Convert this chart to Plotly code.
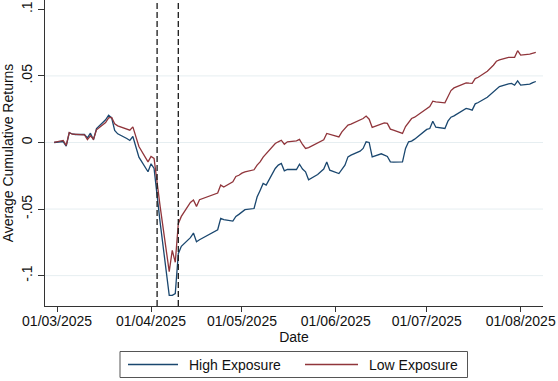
import pandas as pd
import plotly.graph_objects as go

# ---------------- data ----------------
HOLIDAYS = ["2025-04-18"]
dates = [d for d in pd.bdate_range("2025-02-28", "2025-08-06") if d.strftime("%Y-%m-%d") not in HOLIDAYS]

high_exposure = [
    0.0,                                                   # Feb 28
    0.0007, -0.0028, 0.0072, 0.0065, 0.0060,               # Mar 3-7
    0.0060, 0.0035, 0.0070, 0.0020, 0.0105,                # Mar 10-14
    0.0170, 0.0205, 0.0185, 0.0090, 0.0065,                # Mar 17-21
    0.0030, 0.0015, 0.0045, -0.0040, -0.0110,              # Mar 24-28
    -0.0220, -0.0160, -0.0195, -0.0400, -0.0600,           # Mar 31 - Apr 4
    -0.1148, -0.1148, -0.1135, -0.0835, -0.0780,           # Apr 7-11
    -0.0715, -0.0680, -0.0745, -0.0730,                    # Apr 14-17
    -0.0684, -0.0670, -0.0655, -0.0570, -0.0580,           # Apr 21-25
    -0.0590, -0.0555, -0.0540, -0.0520, -0.0505,           # Apr 28 - May 2
    -0.0496, -0.0410, -0.0360, -0.0308, -0.0320,           # May 5-9
    -0.0195, -0.0170, -0.0158, -0.0213, -0.0203,           # May 12-16
    -0.0203, -0.0163, -0.0200, -0.0220, -0.0280,           # May 19-23
    -0.0240, -0.0220, -0.0200, -0.0146, -0.0208,           # May 26-30
    -0.0233, -0.0200, -0.0171, -0.0108, -0.0095,           # Jun 2-6
    -0.0065, -0.0045, 0.0005, 0.0000, -0.0108,             # Jun 9-13
    -0.0085, -0.0095, -0.0105, -0.0146, -0.0148,           # Jun 16-20
    -0.0146, -0.0045, 0.0005, 0.0010, 0.0025,              # Jun 23-27
    0.0075, 0.0098, 0.0105, 0.0160, 0.0115,                # Jun 30 - Jul 4
    0.0105, 0.0160, 0.0190, 0.0200, 0.0215,                # Jul 7-11
    0.0256, 0.0250, 0.0243, 0.0290, 0.0300,                # Jul 14-18
    0.0340, 0.0360, 0.0380, 0.0406, 0.0420,                # Jul 21-25
    0.0440, 0.0444, 0.0430, 0.0463, 0.0431,                # Jul 28 - Aug 1
    0.0438, 0.0450, 0.0458,                                # Aug 4-6
]

low_exposure = [
    0.0,
    0.0015, -0.0022, 0.0075, 0.0062, 0.0060,
    0.0058, 0.0022, 0.0050, 0.0025, 0.0095,
    0.0150, 0.0185, 0.0188, 0.0140, 0.0125,
    0.0100, 0.0092, 0.0117, 0.0040, -0.0030,
    -0.0146, -0.0105, -0.0120, -0.0300, -0.0480,
    -0.0970, -0.0810, -0.0900, -0.0610, -0.0555,
    -0.0450, -0.0432, -0.0480, -0.0430,
    -0.0396, -0.0390, -0.0380, -0.0320, -0.0334,
    -0.0295, -0.0255, -0.0246, -0.0230, -0.0221,
    -0.0205, -0.0170, -0.0146, -0.0110, -0.0083,
    -0.0008, 0.0005, 0.0017, -0.0013, 0.0005,
    0.0012, 0.0023, -0.0015, -0.0045, -0.0038,
    -0.0005, 0.0005, 0.0020, 0.0068, 0.0060,
    0.0042, 0.0080, 0.0105, 0.0130, 0.0138,
    0.0165, 0.0180, 0.0198, 0.0175, 0.0113,
    0.0135, 0.0147, 0.0143, 0.0100, 0.0092,
    0.0068, 0.0120, 0.0155, 0.0180, 0.0190,
    0.0235, 0.0256, 0.0270, 0.0310, 0.0305,
    0.0298, 0.0340, 0.0390, 0.0410, 0.0420,
    0.0448, 0.0445, 0.0444, 0.0480, 0.0490,
    0.0535, 0.0556, 0.0580, 0.0610, 0.0620,
    0.0639, 0.0639, 0.0639, 0.0689, 0.0656,
    0.0664, 0.0670, 0.0676,
]

event_dates = ["2025-04-03", "2025-04-10"]

x_tick_dates = ["2025-03-01", "2025-04-01", "2025-05-01", "2025-06-01", "2025-07-01", "2025-08-01"]
x_tick_labels = ["01/03/2025", "01/04/2025", "01/05/2025", "01/06/2025", "01/07/2025", "01/08/2025"]
y_tick_vals = [-0.1, -0.05, 0, 0.05, 0.1]
y_tick_labels = ["-.1", "-.05", "0", ".05", ".1"]
grid_vals = [-0.1, -0.05, 0, 0.05]

series_names = ["High Exposure", "Low Exposure"]
series_colors = ["#1a476f", "#90353b"]

# ---------------- layout geometry ----------------
W, H = 558, 381
L, R, T, B = 45, 15, 0, 75
PW, PH = W - L - R, H - T - B


def px_x(px):
    return (px - L) / PW


def px_y(py):
    return (H - B - py) / PH


FONT = "Liberation Sans, Arial, Helvetica, sans-serif"
TXT = "#111111"

fig = go.Figure()
for name, vals, col in zip(series_names, [high_exposure, low_exposure], series_colors):
    fig.add_trace(go.Scatter(x=dates, y=vals, mode="lines", name=name,
                             line=dict(color=col, width=1.3), showlegend=False))

shapes = []
for g in grid_vals:
    shapes.append(dict(type="line", xref="paper", yref="y", x0=0, x1=1, y0=g, y1=g,
                       line=dict(color="#e6eef1", width=1), layer="below"))
for d in event_dates:
    shapes.append(dict(type="line", xref="x", yref="paper", x0=d, x1=d, y0=0, y1=1,
                       line=dict(color="#1a1a1a", width=1.3, dash="6px,3px")))

# manual legend (Stata style)
shapes.append(dict(type="rect", xref="paper", yref="paper",
                   x0=px_x(120), x1=px_x(467.5), y0=px_y(377.5), y1=px_y(351.5),
                   line=dict(color="#555555", width=1), fillcolor="white"))
legend_items = [(128, 178, 187), (305, 358, 367)]
annotations = []
for (lx0, lx1, tx), name, col in zip(legend_items, series_names, series_colors):
    shapes.append(dict(type="line", xref="paper", yref="paper",
                       x0=px_x(lx0), x1=px_x(lx1), y0=px_y(364.5), y1=px_y(364.5),
                       line=dict(color=col, width=1.3)))
    annotations.append(dict(xref="paper", yref="paper", x=px_x(tx), y=px_y(364.5),
                            text=name, showarrow=False, xanchor="left", yanchor="middle",
                            font=dict(family=FONT, size=14, color=TXT)))

fig.update_layout(
    width=W, height=H,
    margin=dict(l=L, r=R, t=T, b=B),
    paper_bgcolor="white", plot_bgcolor="white",
    font=dict(family=FONT, size=14, color=TXT),
    shapes=shapes, annotations=annotations,
    showlegend=False,
    xaxis=dict(
        type="date",
        range=["2025-02-25", "2025-08-08 09:00"],
        tickvals=x_tick_dates, ticktext=x_tick_labels,
        ticks="outside", ticklen=5, tickcolor="#333333", tickwidth=1,
        ticklabelstandoff=-3,
        showline=True, linecolor="#333333", linewidth=1,
        showgrid=False, zeroline=False,
        tickfont=dict(size=14, color=TXT),
        title=dict(text="Date", font=dict(size=14, color=TXT), standoff=1),
    ),
    yaxis=dict(
        range=[-0.1228, 0.107],
        tickvals=y_tick_vals, ticktext=y_tick_labels,
        tickangle=-90,
        ticks="outside", ticklen=6, tickcolor="#333333", tickwidth=1,
        showline=True, linecolor="#333333", linewidth=1,
        showgrid=False, zeroline=False,
        tickfont=dict(size=14, color=TXT),
        title=dict(text="Average Cumulative Returns", font=dict(size=14, color=TXT), standoff=6),
    ),
)

fig.write_html("out.html")
